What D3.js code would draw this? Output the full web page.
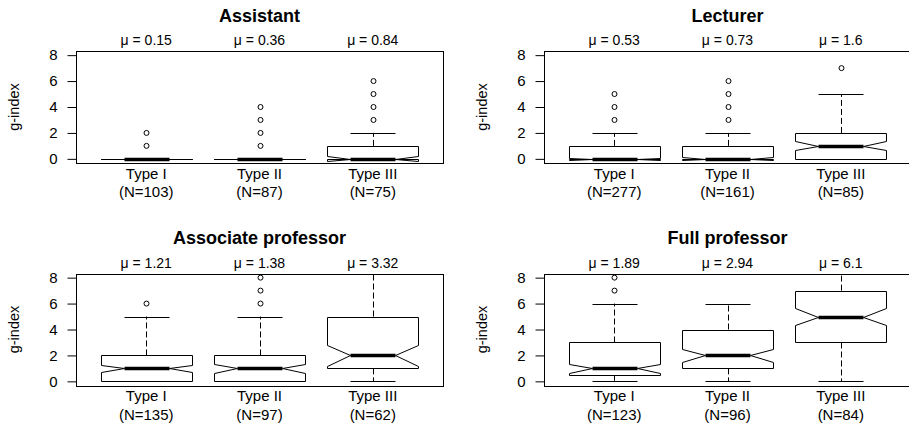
<!DOCTYPE html>
<html>
<head>
<meta charset="utf-8">
<script src="https://cdn.jsdelivr.net/npm/d3@7"></script>
<style>
    body { margin: 0; background: #fff; }
    svg { display: block; font-family: "Liberation Sans", Arial, sans-serif; }
</style>
</head>
<body>
<svg id="chart" width="909" height="425"></svg>
<script>
// g-index by position and type
var panelTitles = ["Assistant", "Lecturer", "Associate professor", "Full professor"];
var typeNames = ["Type I", "Type II", "Type III"];
var groupSizes = [[103, 87, 75], [277, 161, 85], [135, 97, 62], [123, 96, 84]];
var meanLabels = [["0.15", "0.36", "0.84"], ["0.53", "0.73", "1.6"], ["1.21", "1.38", "3.32"], ["1.89", "2.94", "6.1"]];
var whiskerLow = [[0, 0, 0], [0, 0, 0], [0, 0, 0], [0, 0, 0]];
var lowerHinge = [[0, 0, 0], [0, 0, 0], [0, 0, 1], [0.5, 1, 3]];
var medians = [[0, 0, 0], [0, 0, 1], [1, 1, 2], [1, 2, 5]];
var upperHinge = [[0, 0, 1], [1, 1, 2], [2, 2, 5], [3, 4, 7]];
var whiskerHigh = [[0, 0, 2], [2, 2, 5], [5, 5, 11], [6, 6, 13]];
var outliers = [
    [[1, 2], [1, 2, 3, 4], [3, 4, 5, 6]],
    [[3, 4, 5], [3, 4, 5, 6], [7]],
    [[6], [6, 7, 8], []],
    [[7, 8], [], []]
];
var yTicks = [0, 2, 4, 6, 8];

var plotW = 367, plotH = 112;
var svg = d3.select("#chart");

function px(v) { return Math.round(v) + 0.5; }

panelTitles.forEach(function (title, p) {
    var left = p % 2 === 0 ? 76 : 544,
        top = p < 2 ? 51 : 273.5,
        x = d3.scaleLinear().domain([0.38, 3.62]).range([left, left + plotW]),
        y = d3.scaleLinear().domain([-0.32, 8.32]).range([top + plotH, top]);

    var clipId = "clip" + p;
    svg.append("clipPath").attr("id", clipId)
        .append("rect")
        .attr("x", left).attr("y", top)
        .attr("width", plotW).attr("height", plotH);

    var body = svg.append("g").attr("clip-path", "url(#" + clipId + ")");

    typeNames.forEach(function (t, i) {
        var c = i + 1,
            n = groupSizes[p][i],
            q1 = lowerHinge[p][i], med = medians[p][i], q3 = upperHinge[p][i],
            notch = 1.58 * (q3 - q1) / Math.sqrt(n),
            cx = px(x(c));

        // whiskers
        body.append("line")
            .attr("x1", cx).attr("x2", cx)
            .attr("y1", y(q1)).attr("y2", y(whiskerLow[p][i]))
            .attr("stroke", "#000").attr("stroke-dasharray", "6,3");
        body.append("line")
            .attr("x1", cx).attr("x2", cx)
            .attr("y1", y(q3)).attr("y2", y(whiskerHigh[p][i]))
            .attr("stroke", "#000").attr("stroke-dasharray", "6,3");

        // staples
        [whiskerLow[p][i], whiskerHigh[p][i]].forEach(function (v) {
            body.append("line")
                .attr("x1", px(x(c - 0.2))).attr("x2", px(x(c + 0.2)))
                .attr("y1", px(y(v))).attr("y2", px(y(v)))
                .attr("stroke", "#000");
        });

        // notched box, same outline order as R's bxp
        var xs = [c - 0.4, c - 0.4, c - 0.2, c - 0.4, c - 0.4, c + 0.4, c + 0.4, c + 0.2, c + 0.4, c + 0.4],
            ys = [q1, med - notch, med, med + notch, q3, q3, med + notch, med, med - notch, q1];
        body.append("path")
            .attr("d", d3.line()(xs.map(function (v, k) { return [px(x(v)), px(y(ys[k]))]; })) + "Z")
            .attr("fill", "#fff").attr("stroke", "#000");

        // median
        body.append("line")
            .attr("x1", px(x(c - 0.2))).attr("x2", px(x(c + 0.2)))
            .attr("y1", px(y(med))).attr("y2", px(y(med)))
            .attr("stroke", "#000").attr("stroke-width", 3.5);

        body.selectAll(null)
            .data(outliers[p][i])
            .enter().append("circle")
            .attr("cx", cx).attr("cy", function (d) { return y(d); })
            .attr("r", 2.5)
            .attr("fill", "none").attr("stroke", "#000");

        // mean above, type and N below
        svg.append("text")
            .attr("x", x(c)).attr("y", top - 6)
            .attr("text-anchor", "middle").attr("font-size", 14)
            .text("\u03bc = " + meanLabels[p][i]);
        svg.append("text")
            .attr("x", x(c)).attr("y", top + plotH + 15.5)
            .attr("text-anchor", "middle").attr("font-size", 15)
            .text(t);
        svg.append("text")
            .attr("x", x(c)).attr("y", top + plotH + 34)
            .attr("text-anchor", "middle").attr("font-size", 15)
            .text("(N=" + n + ")");
    });

    svg.append("rect")
        .attr("x", left + 0.5).attr("y", Math.round(top) + 0.5)
        .attr("width", plotW).attr("height", plotH)
        .attr("fill", "none").attr("stroke", "#000");

    var axis = svg.append("g")
        .attr("transform", "translate(" + (left + 0.5) + ",0)")
        .call(d3.axisLeft(y).tickValues(yTicks).tickSize(9).tickSizeOuter(0).tickPadding(10));
    axis.select(".domain").remove();
    axis.selectAll("text")
        .attr("font-size", 15).attr("font-family", "Liberation Sans, Arial, sans-serif").attr("fill", "#000");
    axis.selectAll(".tick line").attr("stroke", "#000");

    svg.append("text")
        .attr("transform", "translate(" + (left - 57) + "," + (top + plotH / 2) + ") rotate(-90)")
        .attr("text-anchor", "middle").attr("font-size", 14.5)
        .text("g-index");

    svg.append("text")
        .attr("x", left + plotW / 2).attr("y", top - 29.5)
        .attr("text-anchor", "middle").attr("font-size", 18).attr("font-weight", "bold")
        .text(title);
});
</script>
</body>
</html>
